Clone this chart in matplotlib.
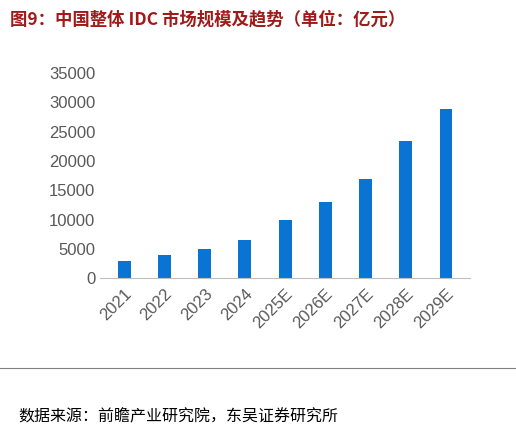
import matplotlib
matplotlib.use("Agg")
import matplotlib.pyplot as plt

plt.rcParams['font.family'] = ['Noto Sans CJK SC', 'DejaVu Sans']

years = ["2021", "2022", "2023", "2024", "2025E", "2026E", "2027E", "2028E", "2029E"]
market_size = [3000, 4000, 5000, 6500, 10000, 13000, 17000, 23400, 28900]
y_ticks = [0, 5000, 10000, 15000, 20000, 25000, 30000, 35000]

fig = plt.figure(figsize=(5.16, 4.32), dpi=100)
ax = fig.add_axes([0.194, 0.356, 0.717, 0.475])

ax.bar(range(len(years)), market_size, width=0.32, color="#0A74D4")
ax.set_ylim(0, 35000)
ax.set_yticks(y_ticks)
ax.set_xlim(-0.6, len(years) - 0.4)
ax.set_xticks(range(len(years)))
ax.set_xticklabels(years, rotation=45, ha="right", rotation_mode="anchor")
ax.tick_params(axis="both", colors="#595959", labelsize=12, length=0)
ax.tick_params(axis="x", pad=6)
for lbl in ax.get_xticklabels() + ax.get_yticklabels():
    lbl.set_family("Liberation Sans")
for side in ["top", "right", "left"]:
    ax.spines[side].set_visible(False)
ax.spines["bottom"].set_color("#BFBFBF")

fig.text(0.02, 0.955, "图9：中国整体 IDC 市场规模及趋势（单位：亿元）",
         color="#A01A1A", fontsize=12.5, fontweight="bold", va="center")
fig.add_artist(plt.Line2D([0.0, 1.0], [0.148, 0.148], color="#7F7F7F", linewidth=0.8))
fig.text(0.035, 0.035, "数据来源：前瞻产业研究院，东吴证券研究所",
         color="#000000", fontsize=11.5, va="center")

fig.savefig("out.png", dpi=100)
